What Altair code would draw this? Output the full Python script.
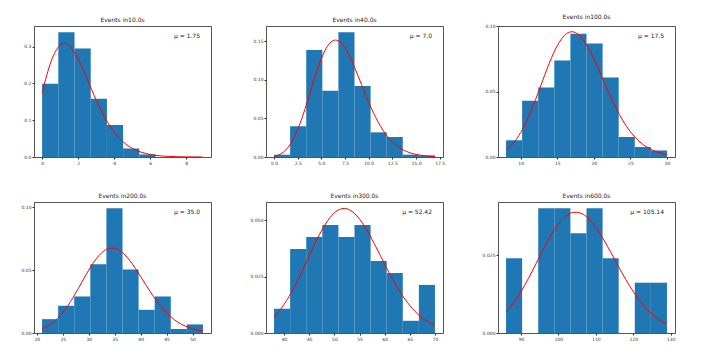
import altair as alt
import pandas as pd

titles = ["Events in10.0s", "Events in40.0s", "Events in100.0s",
          "Events in200.0s", "Events in300.0s", "Events in600.0s"]
mu_labels = ["μ = 1.75", "μ = 7.0", "μ = 17.5", "μ = 35.0", "μ = 52.42", "μ = 105.14"]

# Panel 1 (10 s)
p1_edges = [0, 0.9, 1.8, 2.7, 3.6, 4.5, 5.4, 6.3]
p1_heights = [0.199, 0.339, 0.295, 0.158, 0.087, 0.023, 0.007]
p1_cx = [0, 0.5, 1, 1.2, 1.5, 2, 2.5, 3, 3.5, 4, 4.5, 5, 5.5, 6, 7, 8, 8.9]
p1_cy = [0.174, 0.260, 0.304, 0.309, 0.303, 0.266, 0.212, 0.155, 0.106, 0.0678,
         0.0412, 0.0237, 0.0131, 0.0069, 0.0017, 0.0004, 0.0001]

# Panel 2 (40 s)
p2_edges = [0, 1.7, 3.4, 5.1, 6.8, 8.5, 10.2, 11.9, 13.6, 15.3, 17.0]
p2_heights = [0.003, 0.040, 0.139, 0.086, 0.162, 0.092, 0.032, 0.026, 0.003, 0.002]
p2_cx = [0, 1, 2, 3, 4, 5, 5.5, 6, 6.5, 7, 7.5, 8, 9, 10, 11, 12, 13, 14, 15, 16, 17]
p2_cy = [0.0009, 0.0064, 0.0223, 0.0521, 0.0912, 0.1277, 0.1409, 0.149, 0.1517, 0.149,
         0.1416, 0.1304, 0.1014, 0.071, 0.0452, 0.0263, 0.0142, 0.0071, 0.0033, 0.0015, 0.0006]

# Panel 3 (100 s)
p3_edges = [8, 10.2, 12.4, 14.6, 16.8, 19.0, 21.2, 23.4, 25.6, 27.8, 30.0]
p3_heights = [0.0127, 0.043, 0.053, 0.0736, 0.094, 0.0866, 0.0607, 0.0152, 0.0076, 0.005]
p3_cx = list(range(8, 31))
p3_cy = [0.00548, 0.01066, 0.01865, 0.02967, 0.04327, 0.05825, 0.07281, 0.08495, 0.09291,
         0.09564, 0.09299, 0.08565, 0.07494, 0.06245, 0.04968, 0.0378, 0.02756, 0.01929,
         0.01298, 0.00842, 0.00526, 0.00317, 0.00185]

# Panel 4 (200 s)
p4_edges = [21, 24.1, 27.2, 30.3, 33.4, 36.5, 39.6, 42.7, 45.8, 48.9, 52.0]
p4_heights = [0.011, 0.0216, 0.029, 0.0545, 0.099, 0.0505, 0.0184, 0.029, 0.0032, 0.0068]
p4_cx = list(range(21, 53))
p4_cy = [0.00329, 0.00523, 0.00797, 0.01162, 0.01626, 0.02189, 0.02838, 0.03547, 0.04281,
         0.04994, 0.05639, 0.06167, 0.06541, 0.06734, 0.06734, 0.06547, 0.06193, 0.05704,
         0.05119, 0.04479, 0.03824, 0.03186, 0.02593, 0.02063, 0.01605, 0.01221, 0.00909,
         0.00663, 0.00474, 0.00332, 0.00228, 0.00153]

# Panel 5 (300 s)
p5_edges = [38, 41.2, 44.4, 47.6, 50.8, 54.0, 57.2, 60.4, 63.6, 66.8, 70.0]
p5_heights = [0.0107, 0.0372, 0.0425, 0.0478, 0.0425, 0.0478, 0.0319, 0.0266, 0.0054, 0.0213]
p5_cx = list(range(38, 71))
p5_cy = [0.00719, 0.00966, 0.01266, 0.01619, 0.02021, 0.02464, 0.02935, 0.03419, 0.03896,
         0.04345, 0.04745, 0.05076, 0.05322, 0.0547, 0.05514, 0.05454, 0.05294, 0.05046,
         0.04723, 0.04344, 0.03926, 0.03488, 0.03047, 0.02619, 0.02214, 0.01842, 0.01509,
         0.01217, 0.00967, 0.00756, 0.00583, 0.00443, 0.00332]

# Panel 6 (600 s)
p6_edges = [86, 90.3, 94.6, 98.9, 103.2, 107.5, 111.8, 116.1, 120.4, 124.7, 129.0]
p6_heights = [0.0241, 0.0, 0.0402, 0.0402, 0.0321, 0.0402, 0.0241, 0.0, 0.0162, 0.0162]
p6_cx = list(range(86, 130))
p6_cy = [0.0067, 0.0081, 0.00968, 0.01143, 0.01335, 0.01543, 0.01763, 0.01993, 0.02229,
         0.02467, 0.02702, 0.02929, 0.03142, 0.03337, 0.03509, 0.03653, 0.03766, 0.03844,
         0.03886, 0.03891, 0.03859, 0.03792, 0.03692, 0.03561, 0.03404, 0.03224, 0.03027,
         0.02816, 0.02597, 0.02374, 0.02152, 0.01934, 0.01723, 0.01522, 0.01334, 0.01159,
         0.00999, 0.00854, 0.00724, 0.00609, 0.00508, 0.00421, 0.00346, 0.00282]

x_domains = [[-0.45, 9.38], [-0.85, 17.85], [6.9, 31.1], [19.45, 53.55], [36.4, 71.6], [83.85, 131.15]]
x_ticks = [[0, 2, 4, 6, 8], [0, 2.5, 5, 7.5, 10, 12.5, 15, 17.5], [10, 15, 20, 25, 30],
           [20, 25, 30, 35, 40, 45, 50], [40, 45, 50, 55, 60, 65, 70], [90, 100, 110, 120, 130]]
x_formats = ["d", ".1f", "d", "d", "d", "d"]
y_domains = [[0, 0.356], [0, 0.170], [0, 0.1], [0, 0.104], [0, 0.0580], [0, 0.0422]]
y_ticks = [[0, 0.1, 0.2, 0.3], [0, 0.05, 0.10, 0.15], [0, 0.05, 0.10],
           [0, 0.05, 0.10], [0, 0.025, 0.05], [0, 0.025]]
y_formats = [".1f", ".2f", ".2f", ".2f", ".3f", ".3f"]

edges = [p1_edges, p2_edges, p3_edges, p4_edges, p5_edges, p6_edges]
heights = [p1_heights, p2_heights, p3_heights, p4_heights, p5_heights, p6_heights]
cxs = [p1_cx, p2_cx, p3_cx, p4_cx, p5_cx, p6_cx]
cys = [p1_cy, p2_cy, p3_cy, p4_cy, p5_cy, p6_cy]

W, H = 177, 131
FONT = "DejaVu Sans"


def panel(i):
    e = edges[i]
    bars = pd.DataFrame({"left": e[:-1], "right": e[1:], "h": heights[i]})
    curve = pd.DataFrame({"x": cxs[i], "y": cys[i]})
    xs = alt.Scale(domain=x_domains[i], nice=False, zero=False)
    ys = alt.Scale(domain=y_domains[i], nice=False, zero=False)
    xa = alt.Axis(values=x_ticks[i], format=x_formats[i], title=None)
    ya = alt.Axis(values=y_ticks[i], format=y_formats[i], title=None)
    b = alt.Chart(bars).mark_rect(color="#1f77b4").encode(
        x=alt.X("left:Q", scale=xs, axis=xa),
        x2="right:Q",
        y=alt.Y("h:Q", scale=ys, axis=ya),
        y2=alt.datum(0),
    )
    ln = alt.Chart(curve).mark_line(color="red", strokeWidth=1, interpolate="monotone").encode(
        x=alt.X("x:Q", scale=xs, axis=xa),
        y=alt.Y("y:Q", scale=ys, axis=ya),
    )
    t = alt.Chart(pd.DataFrame({"t": [mu_labels[i]]})).mark_text(
        align="right", baseline="middle", fontSize=6, font=FONT, color="#222"
    ).encode(text="t:N", x=alt.value(166), y=alt.value(10))
    return alt.layer(b, ln, t).properties(
        width=W, height=H,
        title=alt.TitleParams(titles[i], fontSize=6, font=FONT, fontWeight="normal",
                              offset=3, color="#222"),
    )


chart = alt.concat(*[panel(i) for i in range(6)], columns=3,
                   spacing={"row": 45, "column": 55}, bounds="flush").properties(
    padding={"left": 12, "top": 5, "right": 0, "bottom": 0}
).configure_view(stroke="#555", strokeWidth=1).configure_axis(
    domain=False, grid=False, tickSize=2, tickColor="#333", labelFontSize=4.5,
    labelColor="#333", labelFont=FONT, labelPadding=1
)

chart.save("out.html", embed_options={"renderer": "svg", "actions": False})
